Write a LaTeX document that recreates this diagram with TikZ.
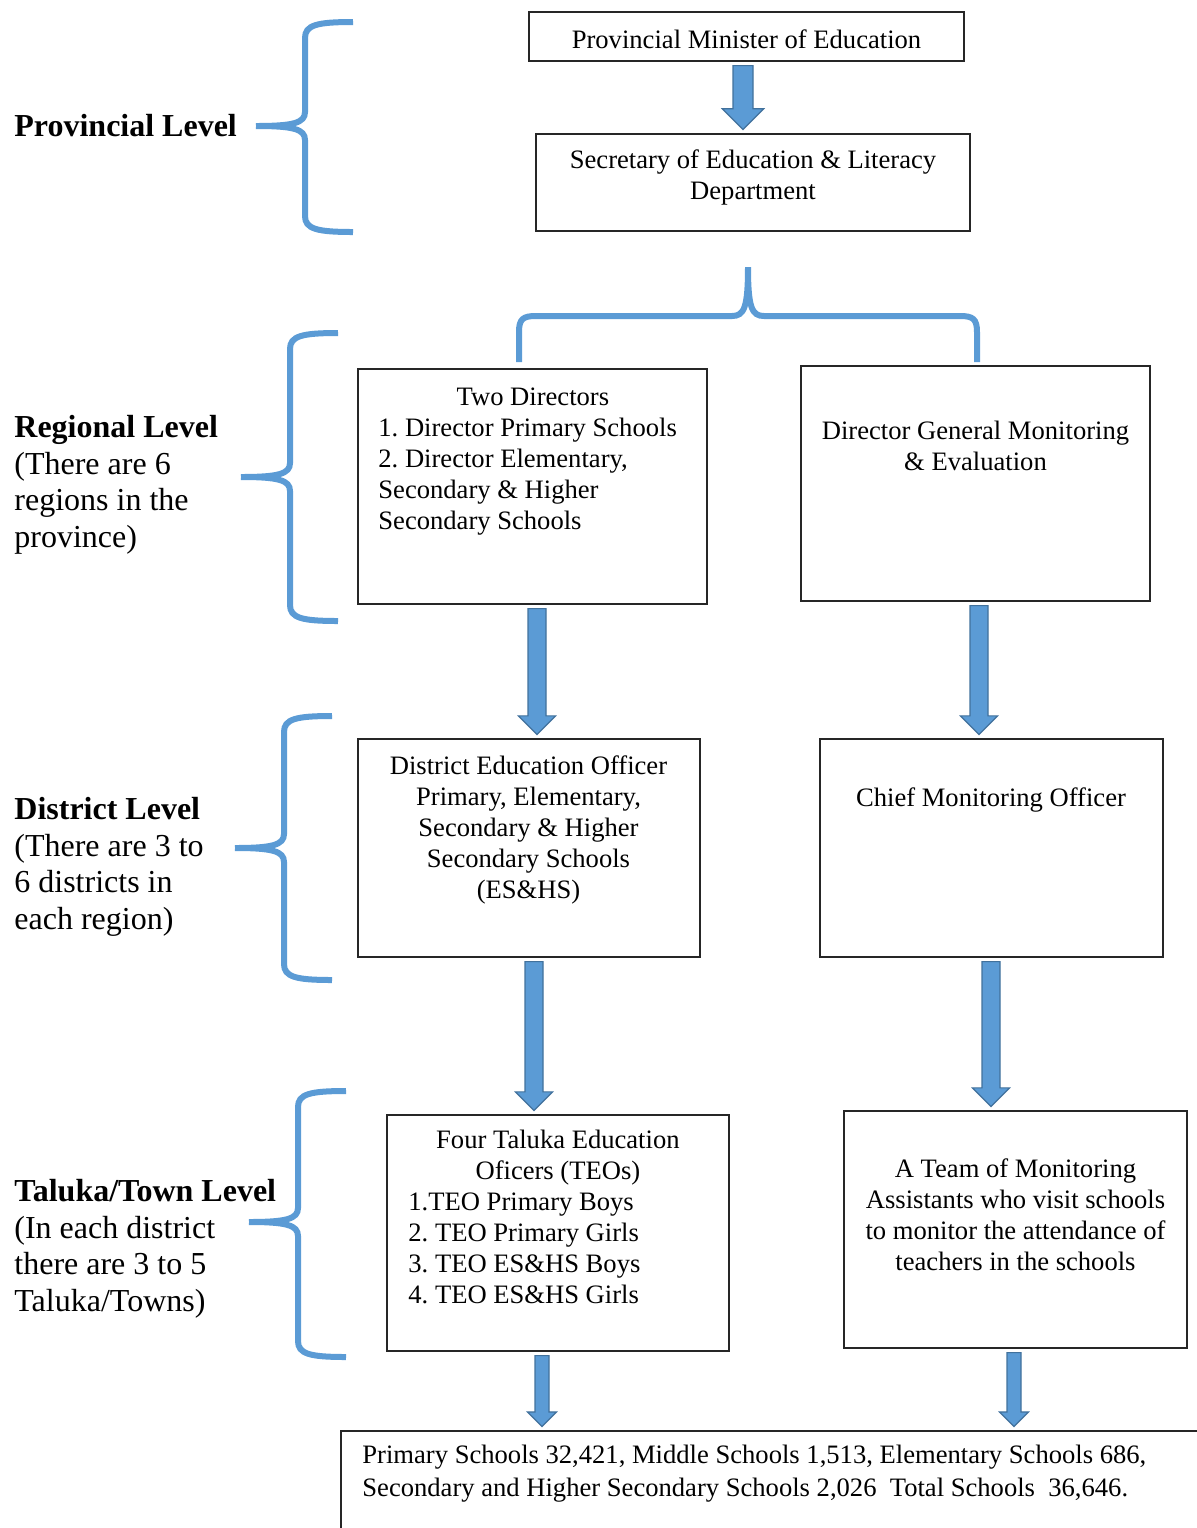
\documentclass[tikz,border=0pt]{standalone}
\usepackage{fontspec}
\setmainfont{Liberation Serif}
\usetikzlibrary{calc}
\definecolor{braceblue}{HTML}{5B9BD5}
\definecolor{arrowedge}{HTML}{41719C}
\tikzstyle{box} = [draw = black!85, line width = 0.6pt, inner sep = 0pt]
\tikzstyle{txt} = [inner sep = 0pt, anchor = north, align = center, font = \fontsize{13.3}{15.5}\selectfont\frenchspacing]
\tikzstyle{lvl} = [inner sep = 0pt, anchor = north west, align = left, font = \fontsize{16}{18.25}\selectfont]
\tikzstyle{brc} = [draw = braceblue, line width = 3pt]
\tikzstyle{blk} = [draw = arrowedge, fill = braceblue, line width = 0.6pt]

% block arrow: #1 half shaft (px), #2 from, #3 to
\newcommand{\barrow}[3][9]{%
  \draw [blk] let \p1 = (#2), \p2 = (#3), \n1 = {#1*0.5}, \n2 = {#1*1.03} in
    (\x1-\n1, \y1-2) -- (\x1+\n1, \y1-2) -- (\x1+\n1, \y2+2+\n2) -- (\x1+\n2, \y2+2+\n2)
    -- (\x1, \y2+2) -- (\x1-\n2, \y2+2+\n2) -- (\x1-\n1, \y2+2+\n2) -- cycle;}

% left brace: #1 end x, #2 top, #3 tip, #4 bottom
\newcommand{\lvlbrace}[4]{%
  \draw [brc] (#1, #2) .. controls (#1-36, #2) and (#1-48, #2+3) .. (#1-48, #2+16)
    -- (#1-48, #3-14) .. controls (#1-48, #3-3) and (#1-60, #3) .. (#1-97, #3)
    (#1-97, #3) .. controls (#1-60, #3) and (#1-48, #3+3) .. (#1-48, #3+14)
    -- (#1-48, #4-16) .. controls (#1-48, #4-3) and (#1-36, #4) .. (#1, #4);}

\begin{document}
\begin{tikzpicture}[x = 0.5pt, y = -0.5pt]
            \useasboundingbox (0, 0) rectangle (1196, 1528);

            \node (B1) at (746.5, 36.5) [box, minimum width = 217.5pt, minimum height = 24.5pt] {};
            \node (B2) at (753, 182.5) [box, minimum width = 217pt, minimum height = 48.5pt] {};
            \node (B3) at (532.5, 486.5) [box, minimum width = 174.5pt, minimum height = 117.5pt] {};
            \node (B4) at (975.5, 483.5) [box, minimum width = 174.5pt, minimum height = 117.5pt] {};
            \node (B5) at (529, 848) [box, minimum width = 171pt, minimum height = 109pt] {};
            \node (B6) at (991.5, 848) [box, minimum width = 171.5pt, minimum height = 109pt] {};
            \node (B7) at (558, 1233) [box, minimum width = 171pt, minimum height = 118pt] {};
            \node (B8) at (1015.5, 1229.5) [box, minimum width = 171.5pt, minimum height = 118.5pt] {};
            \node (B9) at (800, 1501) [box, minimum width = 459pt, minimum height = 70pt] {};

            \node (T1) at (746.5, 29) [txt] {Provincial Minister of Education};
            \node (T2) at (753, 149) [txt] {Secretary of Education \& Literacy\\Department};
            \node (T3) at (378, 387) [txt, anchor = north west, align = left]
                {\makebox[154.5pt]{Two Directors}\\1. Director Primary Schools\\2. Director Elementary,\\Secondary \& Higher\\Secondary Schools};
            \node (T4) at (975.5, 421) [txt] {Director General Monitoring\\\& Evaluation};
            \node (T5) at (528.5, 755) [txt] {District Education Officer\\Primary, Elementary,\\Secondary \& Higher\\Secondary Schools\\(ES\&HS)};
            \node (T6) at (991, 787) [txt] {Chief Monitoring Officer};
            \node (T7) at (408, 1130) [txt, anchor = north west, align = left]
                {\makebox[149.5pt]{Four Taluka Education}\\\makebox[149.5pt]{Oficers (TEOs)}\\1.TEO Primary Boys\\2. TEO Primary Girls\\3. TEO ES\&HS Boys\\4. TEO ES\&HS Girls};
            \node (T8) at (1015.5, 1158) [txt] {A Team of Monitoring\\Assistants who visit schools\\to monitor the attendance of\\teachers in the schools};
            \node (T9) at (362, 1445) [txt, anchor = north west, align = left, font = \fontsize{13.3}{16.5}\selectfont\frenchspacing]
                {Primary Schools 32,421, Middle Schools 1,513, Elementary Schools 686,\\Secondary and Higher Secondary Schools 2,026\ \ Total Schools\ \ 36,646.};

            \node (L1) at (14, 114) [lvl] {\textbf{Provincial Level}};
            \node (L2) at (14, 415) [lvl] {\textbf{Regional Level}\\(There are 6\\regions in the\\province)};
            \node (L3) at (14, 797) [lvl] {\textbf{District Level}\\(There are 3 to\\6 districts in\\each region)};
            \node (L4) at (14, 1179) [lvl] {\textbf{Taluka/Town Level}\\(In each district\\there are 3 to 5\\Taluka/Towns)};

            \lvlbrace{353}{22}{126}{232}
            \lvlbrace{338}{333}{477}{621}
            \lvlbrace{332}{716}{848}{980}
            \lvlbrace{346}{1091}{1222}{1357}
            \draw [brc] (519, 362) -- (519, 332) .. controls (519, 319) and (523, 316) .. (536, 316)
                -- (732, 316) .. controls (744, 316) and (748, 308) .. (748, 267)
                (748, 267) .. controls (748, 308) and (752, 316) .. (764, 316)
                -- (960, 316) .. controls (973, 316) and (977, 319) .. (977, 332) -- (977, 362);

            \barrow[10]{743, 0 |- B1.south}{743, 0 |- B2.north}
            \barrow{537, 0 |- B3.south}{537, 0 |- B5.north}
            \barrow{979, 0 |- B4.south}{979, 0 |- B6.north}
            \barrow{534, 0 |- B5.south}{534, 0 |- B7.north}
            \barrow{991, 0 |- B6.south}{991, 0 |- B8.north}
            \barrow[7]{542, 0 |- B7.south}{542, 0 |- B9.north}
            \barrow[7]{1014, 0 |- B8.south}{1014, 0 |- B9.north}
        \end{tikzpicture}
\end{document}
